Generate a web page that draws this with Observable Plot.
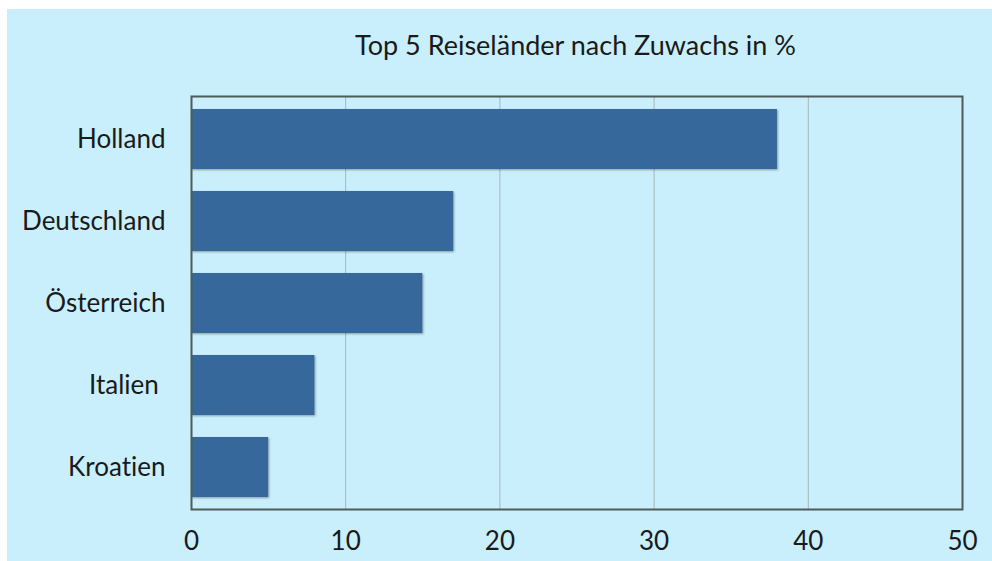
<!DOCTYPE html>
<html>
<head>
<meta charset="utf-8">
<script src="https://cdn.jsdelivr.net/npm/d3@7"></script>
<script src="https://cdn.jsdelivr.net/npm/@observablehq/plot@0.6"></script>
<style>
  html, body { margin: 0; padding: 0; background: #ffffff; }
  #panel {
    position: absolute; left: 7px; top: 9px; width: 985px; height: 552px;
    background: #c9effd; overflow: hidden;
    font-variant-ligatures: none;
  }
  #title {
    position: absolute; left: 0; top: 20px; width: 985px;
    padding-left: 152px; box-sizing: border-box;
    text-align: center; font-family: Lato, sans-serif; font-size: 27px;
    line-height: 32px; color: #1a1a1a; font-variant-ligatures: none;
  }
  #chart { position: absolute; left: 0; top: 0; }
  #chart text { font-variant-ligatures: none; }
  #chart g[aria-label="bar"] rect { filter: drop-shadow(1px 1px 1.2px rgba(0,0,0,0.35)); }
</style>
</head>
<body>
<div id="panel">
  <div id="title">Top 5 Reiseländer nach Zuwachs in %</div>
  <div id="chart"></div>
</div>
<script>
const countries = ["Holland", "Deutschland", "Österreich", "Italien\u00a0", "Kroatien"];
const growth = [38, 17, 15, 8, 5];
const xTicks = [0, 10, 20, 30, 40, 50];

const data = countries.map((c, i) => ({country: c, value: growth[i]}));

const chart = Plot.plot({
  width: 985,
  height: 552,
  marginTop: 87,
  marginBottom: 52,
  marginLeft: 184,
  marginRight: 30,
  style: {background: "transparent", fontFamily: "Lato, sans-serif", fontSize: "26px", color: "#1a1a1a", overflow: "visible"},
  x: {domain: [0, 50], ticks: xTicks, label: null, tickSize: 0, tickPadding: 22},
  y: {domain: countries, label: null, paddingInner: 0.27, paddingOuter: 0.135, tickSize: 0, tickPadding: 26},
  marks: [
    Plot.gridX(xTicks.slice(1, -1), {stroke: "#aab4b8", strokeOpacity: 1, strokeWidth: 1}),
    Plot.barX(data, {y: "country", x: "value", fill: "#37689b"}),
    Plot.frame({stroke: "#4f5a5a", strokeWidth: 2})
  ]
});
document.getElementById("chart").appendChild(chart);
</script>
</body>
</html>
